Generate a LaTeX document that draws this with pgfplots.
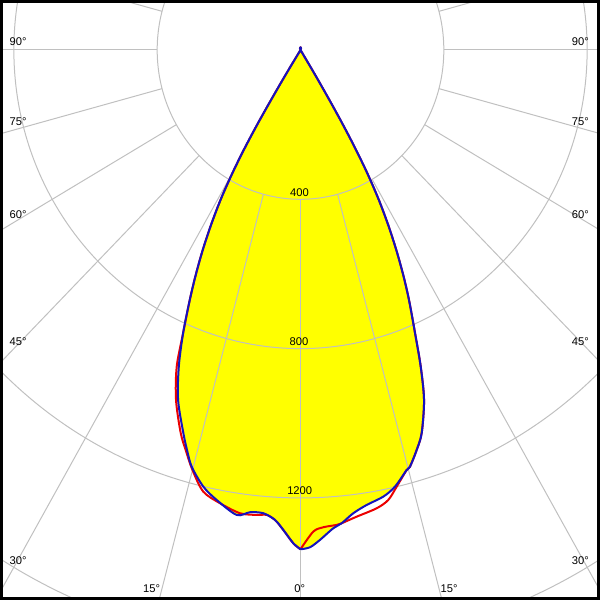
\documentclass[border=0pt]{standalone}
\usepackage{pgfplots}
\pgfplotsset{compat=1.18}
\usepackage{pgfplotstable}
\usepackage{fontspec}
\setmainfont{Liberation Sans}
\definecolor{gridc}{RGB}{192,192,192}
\definecolor{cblue}{RGB}{20,20,190}
\definecolor{cred}{RGB}{235,0,0}
\definecolor{cyell}{RGB}{255,255,0}

% C90-C270 plane (blue): polar angle (deg), intensity (cd)
\pgfplotstableread{
ang r
-90 1337.5
-88.86 1332.5
-87.63 1313.7
-85.92 1284.6
-84.82 1273.1
-83.23 1249.8
-81.38 1232.8
-79.07 1218.7
-77.3 1199.2
-75.24 1163.5
-74.69 1157.4
-73.16 1119.5
-71.75 1080.3
-69.81 999.1
-68.42 912.4
-67.14 822.8
-65.67 735.1
-64.56 667.5
-63.48 598.8
-62.43 528.9
-61.44 457.6
-60.6 384.4
-59.92 309.6
-59.38 233.5
-58.94 156.4
-58.5 78.6
-58.2 0
-122.3 0
-122.0 79.0
-121.56 157.3
-121.15 234.7
-120.6 311.2
-119.9 386.3
-119.06 459.8
-118.05 531.3
-116.99 601.3
-115.88 670.0
-114.77 737.7
-113.37 825.9
-111.82 914.0
-110.02 998.0
-107.68 1076.9
-106.47 1117.4
-105.22 1156.9
-103.06 1200.8
-100.98 1228
-98.14 1258.3
-96.49 1246.4
-94.78 1245.4
-93.24 1261
-92.14 1286.7
-90.87 1321.7
-90 1337.5
}\bluetab

% C0-C180 plane (red)
\pgfplotstableread{
ang r
-90 1337.5
-88.42 1290.9
-87.15 1280.2
-85.46 1276.4
-84.82 1273.1
-82.85 1260
-80.17 1246
-78.51 1230.1
-77.07 1200.2
-75.24 1163.5
-74.69 1157.4
-73.16 1119.5
-71.75 1080.3
-69.81 999.1
-68.42 912.4
-67.14 822.8
-65.67 735.1
-64.56 667.5
-63.48 598.8
-62.43 528.9
-61.44 457.6
-60.6 384.4
-59.92 309.6
-59.38 233.5
-58.94 156.4
-58.5 78.6
-58.2 0
-122.3 0
-122.0 79.0
-121.56 157.3
-121.15 234.7
-120.6 311.2
-119.9 386.3
-119.06 459.8
-118.05 531.3
-116.99 601.3
-115.88 670.0
-114.77 737.7
-113.37 825.9
-112.16 916
-110.33 1000
-108.05 1079.1
-106.6 1120
-105.0 1165
-102.92 1213.9
-100.48 1234.9
-97.75 1252.5
-95.6 1251.6
-94.33 1249.2
-93.24 1261
-92.14 1286.7
-90.87 1321.7
-90 1337.5
}\redtab

\begin{document}
\begin{tikzpicture}
\begin{axis}[
  width=300pt, height=300pt, scale only axis,
  xmin=-838.7, xmax=835.9, ymin=-1473.4, ymax=133.9,
  xtick=\empty, ytick=\empty,
  axis line style={line width=2.6pt, black},
  axis on top,
  clip=true,
]
\addplot[draw=none, fill=cyell, data cs=polar, smooth, tension=0.5] table[x=ang,y=r]{\bluetab};

% grid circles
\pgfplotsinvokeforeach{400,800,1200,1600}{
  \draw[gridc, line width=0.5pt] (axis cs:0,0) ellipse [x radius=#1, y radius=#1];
}
% radial lines
\pgfplotsinvokeforeach{0,15,...,345}{
  \draw[gridc, line width=0.5pt] (axis cs:{400*cos(#1)},{400*sin(#1)}) -- (axis cs:{2400*cos(#1)},{2400*sin(#1)});
}

\addplot[cred, line width=1pt, line join=round, data cs=polar, smooth, tension=0.5] table[x=ang,y=r]{\redtab};
\addplot[cblue, line width=1pt, line join=round, data cs=polar, smooth, tension=0.5] table[x=ang,y=r]{\bluetab};

\begin{scope}[every node/.style={font=\fontsize{5.6}{6.5}\selectfont, inner sep=0pt, text=black}]
\node at (axis cs:-2.8,-383.1) {400};
\node at (axis cs:-4.2,-782.3) {800};
\node at (axis cs:-2.2,-1181.5) {1200};
\node[anchor=west] at (axis cs:-812.8,22.2) {90°};
\node[anchor=west] at (axis cs:-812.8,-192.1) {75°};
\node[anchor=west] at (axis cs:-812.8,-442.1) {60°};
\node[anchor=west] at (axis cs:-812.8,-781.5) {45°};
\node[anchor=west] at (axis cs:-812.8,-1367.7) {30°};
\node[anchor=east] at (axis cs:806.1,22.2) {90°};
\node[anchor=east] at (axis cs:806.1,-192.1) {75°};
\node[anchor=east] at (axis cs:806.1,-442.1) {60°};
\node[anchor=east] at (axis cs:806.1,-781.5) {45°};
\node[anchor=east] at (axis cs:806.1,-1367.7) {30°};
\node at (axis cs:-415.4,-1442.7) {15°};
\node at (axis cs:-2.2,-1444.1) {0°};
\node at (axis cs:414.5,-1442.7) {15°};
\end{scope}
\end{axis}
\pgfresetboundingbox
\path[use as bounding box] (current axis.south west) rectangle (current axis.north east);
\end{tikzpicture}
\end{document}
